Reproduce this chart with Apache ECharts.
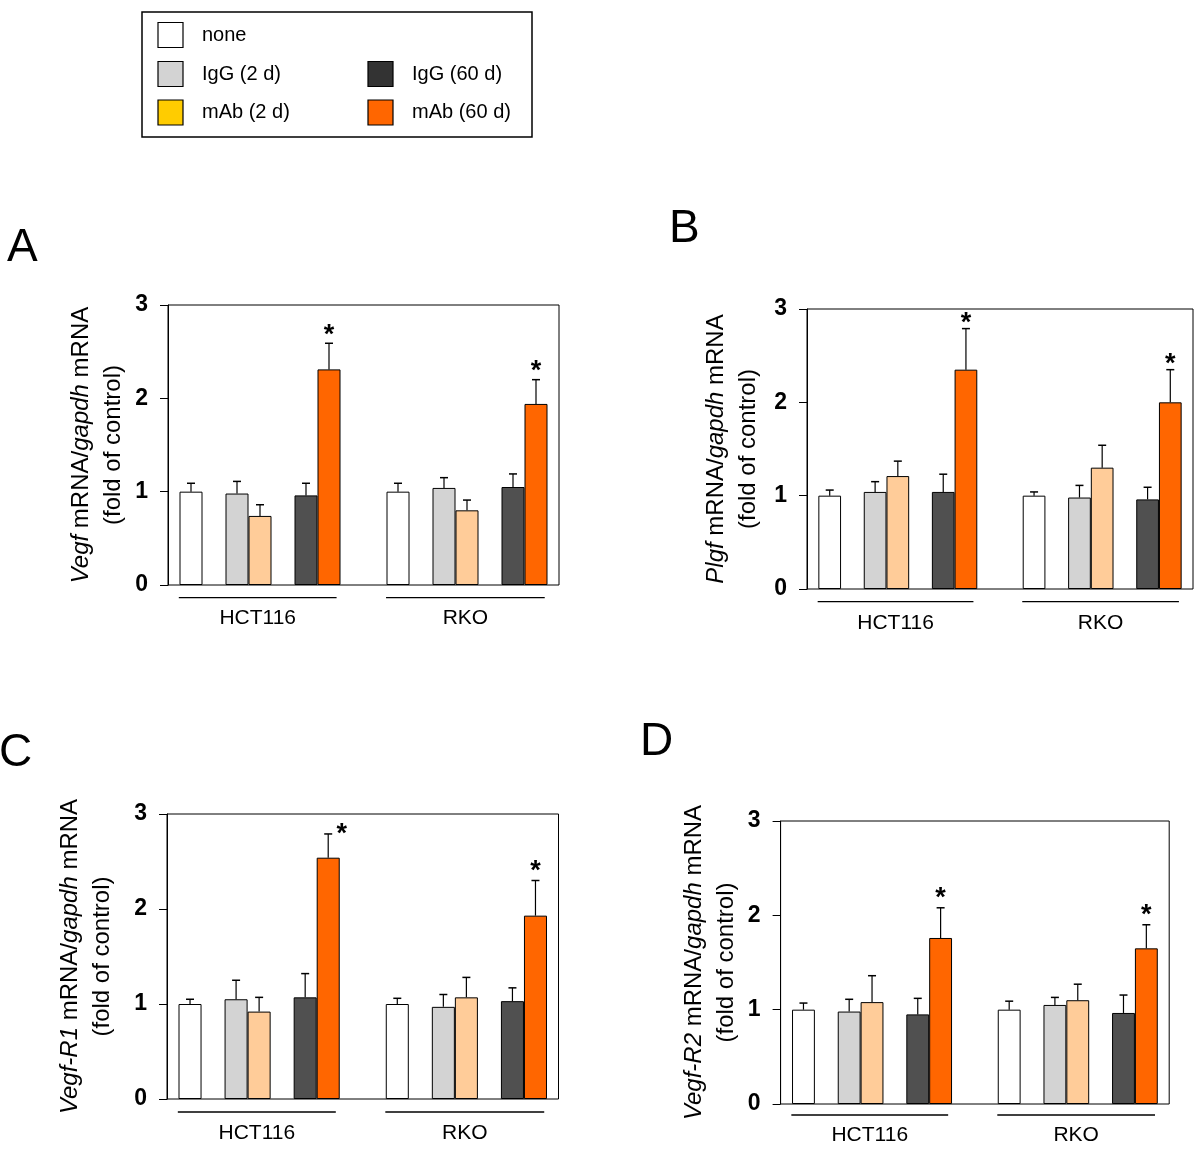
<!DOCTYPE html>
<html><head><meta charset="utf-8">
<script src="https://cdn.jsdelivr.net/npm/echarts@6/dist/echarts.min.js"></script>
<style>html,body{margin:0;padding:0;background:#fff}#c{width:1200px;height:1151px}</style>
</head><body><div id="c"></div>
<script>
// ---------------- data ----------------
const cellLines = ['HCT116', 'RKO'];
const conditions = ['none', 'IgG (2 d)', 'mAb (2 d)', 'IgG (60 d)', 'mAb (60 d)'];
const panelLetters = ['A', 'B', 'C', 'D'];
const genes = ['Vegf', 'Plgf', 'Vegf-R1', 'Vegf-R2'];
const yTicks = [0, 1, 2, 3];
const significant = [false, false, false, false, true];

// means / SEM, order: HCT116 (5 conditions), then RKO (5 conditions)
const vegfMean   = [1.00, 0.98, 0.74, 0.96, 2.31,  1.00, 1.04, 0.80, 1.05, 1.94];
const vegfSem    = [0.09, 0.13, 0.12, 0.13, 0.28,  0.09, 0.11, 0.11, 0.14, 0.26];
const plgfMean   = [1.00, 1.04, 1.21, 1.04, 2.35,  1.00, 0.98, 1.30, 0.96, 2.00];
const plgfSem    = [0.06, 0.11, 0.16, 0.19, 0.44,  0.04, 0.13, 0.24, 0.13, 0.35];
const vegfR1Mean = [1.00, 1.05, 0.92, 1.07, 2.54,  1.00, 0.97, 1.07, 1.03, 1.93];
const vegfR1Sem  = [0.05, 0.20, 0.15, 0.25, 0.25,  0.06, 0.13, 0.21, 0.14, 0.37];
const vegfR2Mean = [1.00, 0.98, 1.08, 0.95, 1.76,  1.00, 1.05, 1.10, 0.965, 1.65];
const vegfR2Sem  = [0.07, 0.13, 0.28, 0.17, 0.32,  0.09, 0.08, 0.17, 0.19, 0.25];

const panelMeans = [vegfMean, plgfMean, vegfR1Mean, vegfR2Mean];
const panelSems  = [vegfSem, plgfSem, vegfR1Sem, vegfR2Sem];

// ---------------- styles / layout ----------------
const FONT = '"Liberation Sans", Arial, Helvetica, sans-serif';
const barColors = ['#FFFFFF', '#D3D3D3', '#FFCC99', '#505050', '#FF6600'];
const legendColors = ['#FFFFFF', '#D3D3D3', '#FFCC00', '#333333', '#FF6600'];
const slotInGroup = [1, 3, 4, 6, 7];
const groupStart = [0, 9];
const groupSpan = [[0.47, 7.33], [9.48, 16.38]];
const layout = [
  {left: 168, top: 305, width: 391, height: 280, nameGap: 38.5, lineOff: 12.7, labelOff: 33.5, letter: [7, 248], ast: [[0, -7.4], [0, -8.4]]},
  {left: 807, top: 309, width: 386, height: 280, nameGap: 43, lineOff: 12.7, labelOff: 34, letter: [669, 229], ast: [[0, -5.1], [0, -5.1]]},
  {left: 167, top: 814, width: 391.5, height: 285, nameGap: 48.5, lineOff: 13, labelOff: 34.5, letter: [-1, 753], ast: [[13.6, 0.9], [0, -9.1]]},
  {left: 780.6, top: 821, width: 388.6, height: 283, nameGap: 38.4, lineOff: 11, labelOff: 31, letter: [640, 742.5], ast: [[0, -9.1], [0, -9.1]]}
];

const grids = [], xAxes = [], yAxes = [], series = [], graphics = [];

layout.forEach((L, p) => {
  grids.push({left: L.left, top: L.top, width: L.width, height: L.height, show: true,
    borderColor: '#000', borderWidth: 1, backgroundColor: 'transparent',
    containLabel: false, outerBoundsMode: 'none'});
  xAxes.push({type: 'value', gridIndex: p, min: 0, max: 17, show: false});
  const gene = genes[p];
  yAxes.push({
    type: 'value', gridIndex: p, min: yTicks[0], max: yTicks[yTicks.length - 1], interval: 1,
    splitLine: {show: false},
    axisLine: {show: true, lineStyle: {color: '#000', width: 1}},
    axisTick: {show: true, inside: false, length: 8, lineStyle: {color: '#000', width: 1}},
    axisLabel: {color: '#000', fontSize: 23, fontWeight: 'bold', fontFamily: FONT, margin: 20},
    name: '{i|' + gene + '} mRNA/{i|gapdh} mRNA\n(fold of control)',
    nameLocation: 'middle', nameGap: L.nameGap, nameRotate: 90,
    nameTextStyle: {color: '#000', fontSize: 24, fontFamily: FONT, lineHeight: 32,
      rich: {i: {fontStyle: 'italic', fontSize: 24, fontFamily: FONT, color: '#000', lineHeight: 32}}}
  });
  const means = panelMeans[p], sems = panelSems[p];
  const bw = L.width / 17;
  conditions.forEach((c, ci) => {
    series.push({
      type: 'bar', name: c, xAxisIndex: p, yAxisIndex: p, barWidth: bw, barGap: '-100%',
      itemStyle: {color: barColors[ci], borderColor: '#000', borderWidth: 1},
      data: cellLines.map((g, gi) => [groupStart[gi] + slotInGroup[ci], means[gi * 5 + ci]]),
      z: 2, silent: true
    });
  });
  const errData = [];
  const astData = [];
  cellLines.forEach((g, gi) => conditions.forEach((c, ci) => {
    const x = groupStart[gi] + slotInGroup[ci];
    const m = means[gi * 5 + ci], t = m + sems[gi * 5 + ci];
    errData.push([x, m, t]);
    if (significant[ci]) astData.push([x, t, gi]);
  }));
  // error bars (upper only)
  series.push({
    type: 'custom', xAxisIndex: p, yAxisIndex: p, clip: false, z: 3, silent: true,
    encode: {x: 0, y: [1, 2]},
    data: errData,
    renderItem: (params, api) => {
      const p0 = api.coord([api.value(0), api.value(1)]);
      const p1 = api.coord([api.value(0), api.value(2)]);
      return {type: 'group', children: [
        {type: 'line', shape: {x1: p0[0], y1: p0[1], x2: p1[0], y2: p1[1]}, style: {stroke: '#000', lineWidth: 1.2}},
        {type: 'line', shape: {x1: p1[0] - 4, y1: p1[1], x2: p1[0] + 4, y2: p1[1]}, style: {stroke: '#000', lineWidth: 1.5}}
      ]};
    }
  });
  // significance asterisks
  series.push({
    type: 'custom', xAxisIndex: p, yAxisIndex: p, clip: false, z: 4, silent: true,
    encode: {x: 0, y: 1},
    data: astData,
    renderItem: (params, api) => {
      const pt = api.coord([api.value(0), api.value(1)]);
      const off = L.ast[api.value(2)];
      return {type: 'text', x: pt[0] + off[0], y: pt[1] + off[1],
        style: {text: '*', fontSize: 27, fontWeight: 'bold', fontFamily: FONT, fill: '#000', align: 'center', verticalAlign: 'middle'}};
    }
  });
  // group underlines + cell-line labels
  series.push({
    type: 'custom', xAxisIndex: p, yAxisIndex: p, clip: false, z: 4, silent: true,
    encode: {x: [0, 1], y: 2},
    data: cellLines.map((g, gi) => [groupSpan[gi][0], groupSpan[gi][1], 0, gi]),
    renderItem: (params, api) => {
      const a = api.coord([api.value(0), api.value(2)]);
      const b = api.coord([api.value(1), api.value(2)]);
      return {type: 'group', children: [
        {type: 'line', shape: {x1: a[0], y1: a[1] + L.lineOff, x2: b[0], y2: a[1] + L.lineOff}, style: {stroke: '#000', lineWidth: 1.3}},
        {type: 'text', x: (a[0] + b[0]) / 2, y: a[1] + L.labelOff,
          style: {text: cellLines[api.value(3)], fontSize: 21, fontFamily: FONT, fill: '#000', align: 'center', verticalAlign: 'middle'}}
      ]};
    }
  });
  graphics.push({type: 'text', x: L.letter[0], y: L.letter[1],
    style: {text: panelLetters[p], fontSize: 46, fontFamily: FONT, fill: '#000', align: 'left', verticalAlign: 'middle'}});
});

// legend (drawn as graphic to reproduce the original two-column box)
const legendCells = [
  {ci: 0, x: 158, y: 35}, {ci: 1, x: 158, y: 74}, {ci: 2, x: 158, y: 112.5},
  {ci: 3, x: 368, y: 74}, {ci: 4, x: 368, y: 112.5}
];
graphics.push({type: 'rect', shape: {x: 142, y: 12, width: 390, height: 125},
  style: {fill: '#fff', stroke: '#000', lineWidth: 1.5}, z: 0});
legendCells.forEach(cell => {
  graphics.push({type: 'rect', shape: {x: cell.x, y: cell.y - 12.5, width: 25, height: 25},
    style: {fill: legendColors[cell.ci], stroke: '#000', lineWidth: 1.2}, z: 1});
  graphics.push({type: 'text', x: cell.x + 44, y: cell.y,
    style: {text: conditions[cell.ci], fontSize: 20, fontFamily: FONT, fill: '#000', verticalAlign: 'middle'}, z: 1});
});

const chart = echarts.init(document.getElementById('c'), null, {renderer: 'canvas'});
chart.setOption({
  animation: false,
  backgroundColor: '#fff',
  grid: grids, xAxis: xAxes, yAxis: yAxes, series: series,
  graphic: graphics
});
</script>
</body></html>
